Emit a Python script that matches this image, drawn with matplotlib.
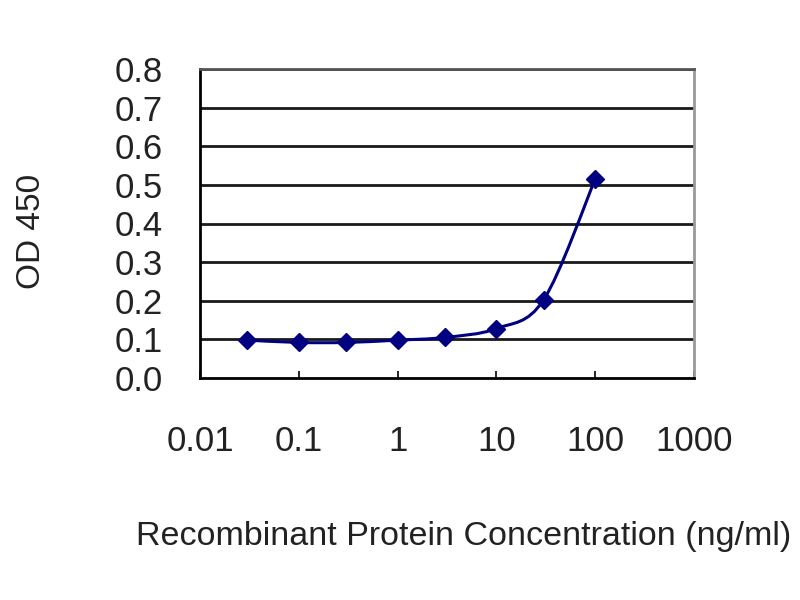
import numpy as np
import matplotlib
matplotlib.use("Agg")
import matplotlib.pyplot as plt
from matplotlib.path import Path
from matplotlib.patches import PathPatch
from matplotlib.ticker import NullLocator, FixedLocator, FixedFormatter

plt.rcParams['font.family'] = ['Liberation Sans', 'DejaVu Sans']

# data
concentration = [0.03, 0.1, 0.3, 1, 3, 10, 30, 100]
od450 = [0.098, 0.092, 0.092, 0.098, 0.105, 0.128, 0.202, 0.515]

x_ticks = [0.01, 0.1, 1, 10, 100, 1000]
x_tick_labels = ["0.01", "0.1", "1", "10", "100", "1000"]
y_ticks = [0.0, 0.1, 0.2, 0.3, 0.4, 0.5, 0.6, 0.7, 0.8]

NAVY = "#000080"


def smooth_path(xs, ys):
    """Catmull-Rom style bezier through the points, in log10(x) space."""
    lx = np.log10(xs)
    ys = np.asarray(ys, dtype=float)
    n = len(lx)
    verts = [(xs[0], ys[0])]
    codes = [Path.MOVETO]
    for i in range(n - 1):
        x0, y0 = (lx[i - 1], ys[i - 1]) if i > 0 else (lx[i], ys[i])
        x1, y1 = lx[i], ys[i]
        x2, y2 = lx[i + 1], ys[i + 1]
        x3, y3 = (lx[i + 2], ys[i + 2]) if i + 2 < n else (x2, y2)
        c1 = (x1 + (x2 - x0) / 6.0, y1 + (y2 - y0) / 6.0)
        c2 = (x2 - (x3 - x1) / 6.0, y2 - (y3 - y1) / 6.0)
        verts += [(10 ** c1[0], c1[1]), (10 ** c2[0], c2[1]), (10 ** x2, y2)]
        codes += [Path.CURVE4] * 3
    return Path(verts, codes)


fig = plt.figure(figsize=(8, 6), dpi=100)
ax = fig.add_axes([0.25, 0.37, 0.6175, 0.515])

ax.set_xscale("log")
ax.set_xlim(0.01, 1000)
ax.set_ylim(0, 0.8)

# horizontal grid lines
for yv in y_ticks[1:]:
    ax.axhline(yv, color="#1a1a1a", lw=2.0, zorder=1)

curve = PathPatch(smooth_path(concentration, od450), facecolor="none",
                  edgecolor=NAVY, lw=2.2, zorder=3)
ax.add_patch(curve)
ax.plot(concentration, od450, linestyle="none", marker="D", markersize=9,
        color=NAVY, zorder=4)

ax.xaxis.set_major_locator(FixedLocator(x_ticks))
ax.xaxis.set_major_formatter(FixedFormatter(x_tick_labels))
ax.xaxis.set_minor_locator(NullLocator())
ax.set_yticks(y_ticks)
ax.set_yticklabels([f"{v:.1f}" for v in y_ticks])

ax.tick_params(axis="x", direction="in", length=5, width=1.2, pad=34,
               labelsize=25, colors="black", labelcolor="#222222")
ax.tick_params(axis="y", length=0, pad=27, labelsize=25,
               labelcolor="#222222")

ax.spines["left"].set_color("black")
ax.spines["left"].set_linewidth(2.0)
ax.spines["bottom"].set_color("black")
ax.spines["bottom"].set_linewidth(2.0)
ax.spines["right"].set_color("#999999")
ax.spines["right"].set_linewidth(2.0)
ax.spines["top"].set_color("#555555")
ax.spines["top"].set_linewidth(2.0)

fig.text(0.58, 0.106, "Recombinant Protein Concentration (ng/ml)",
         ha="center", va="center", fontsize=24.5, color="#222222")
fig.text(0.04, 0.615, "OD 450", rotation=90, ha="center", va="center",
         fontsize=24, color="#222222")

fig.savefig("out.png", dpi=100, facecolor="white")
